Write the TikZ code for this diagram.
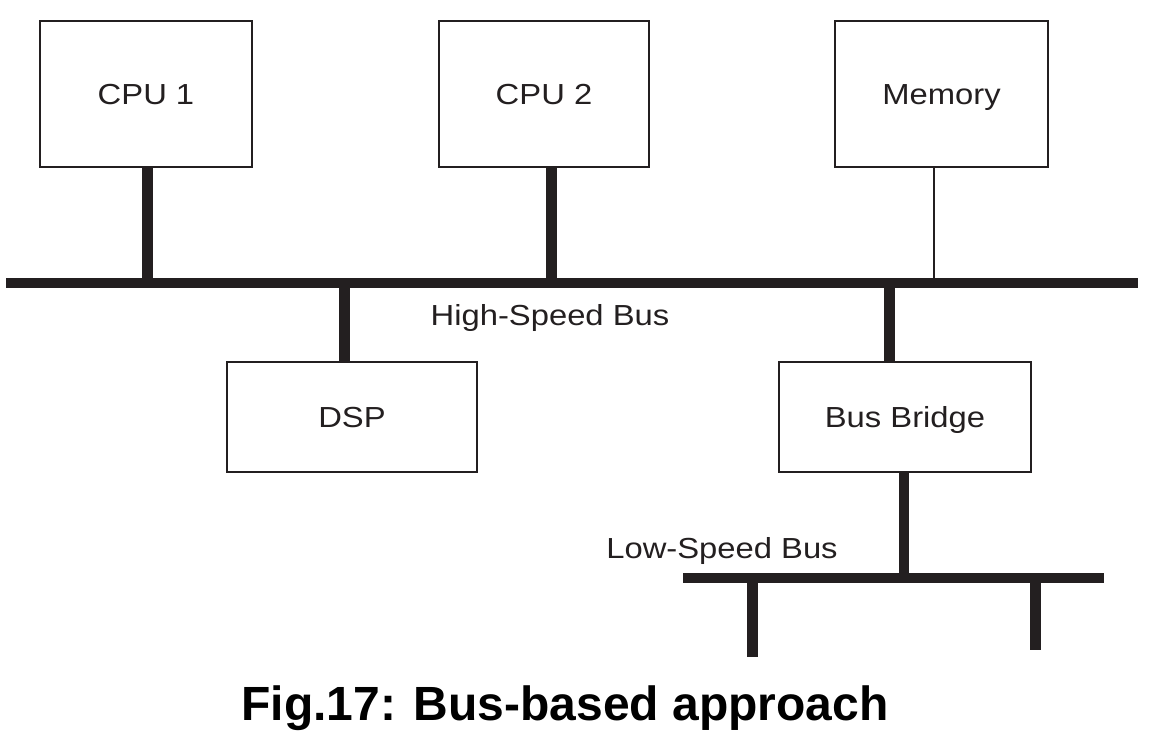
\documentclass[tikz,border=0pt]{standalone}
\usepackage{fontspec}
\setmainfont{Liberation Sans}
\usepackage{graphicx}
\definecolor{ink}{HTML}{231F20}
\newcommand\widetxt[1]{\scalebox{1.13}[1]{#1}}
\begin{document}
\begin{tikzpicture}[x=1pt,y=-1pt,
  box/.style={draw=ink, line width=2.2pt, fill=white, inner sep=0pt, outer sep=0pt,
    text=ink, font=\fontsize{29}{30}\selectfont, text height=20.8pt, text depth=0pt},
  bus/.style={draw=ink, line width=10pt},
  stem/.style={draw=ink, line width=11pt},
  thinstem/.style={draw=ink, line width=2.4pt},
  lbl/.style={text=ink, font=\fontsize{29}{30}\selectfont, anchor=base, inner sep=0pt},
  caption/.style={text=black, font=\bfseries\fontsize{48}{50}\selectfont, anchor=base, inner sep=0pt}]
\useasboundingbox (0,0) rectangle (1170,749);

% buses
\coordinate (hbL) at (6,283);
\coordinate (hbR) at (1138,283);
\coordinate (lbL) at (683,578);
\coordinate (lbR) at (1104,578);
\draw[bus] (hbL) -- (hbR);
\draw[bus] (lbL) -- (lbR);

% boxes
\node[box, minimum width=212pt, minimum height=146pt] (cpu1) at (146,94) {\widetxt{CPU 1}};
\node[box, minimum width=210pt, minimum height=146pt] (cpu2) at (544,94) {\widetxt{CPU 2}};
\node[box, minimum width=213pt, minimum height=146pt] (mem) at (941.5,94) {\widetxt{Memory}};
\node[box, minimum width=250pt, minimum height=110pt] (dsp) at (352,417) {\widetxt{DSP}};
\node[box, minimum width=252pt, minimum height=110pt] (bridge) at (905,417) {\widetxt{Bus Bridge}};

% stems to high-speed bus
\coordinate (c1) at (147.5,283);
\coordinate (c2) at (551,283);
\coordinate (cm) at (934,283);
\coordinate (cd) at (344,283);
\coordinate (cb) at (889.5,283);
\draw[stem] (c1) -- (c1 |- cpu1.south);
\draw[stem] (c2) -- (c2 |- cpu2.south);
\draw[thinstem] (cm) -- (cm |- mem.south);
\draw[stem] (cd) -- (cd |- dsp.north);
\draw[stem] (cb) -- (cb |- bridge.north);

% bridge to low-speed bus
\coordinate (lb) at (904,578);
\draw[stem, line width=10pt] (bridge.south -| lb) -- (lb);
\coordinate (d1top) at (752.5,578);
\coordinate (d1) at (752.5,657);
\coordinate (d2top) at (1035,578);
\coordinate (d2) at (1035,650);
\draw[stem] (d1top) -- (d1);
\draw[stem] (d2top) -- (d2);

% labels
\node[lbl] (hsl) at (550,325) {\widetxt{High-Speed Bus}};
\node[lbl] (lsl) at (722,558) {\widetxt{Low-Speed Bus}};
\node[caption] (cap) at (565,720) {Fig.17: Bus-based approach};
\end{tikzpicture}
\end{document}
